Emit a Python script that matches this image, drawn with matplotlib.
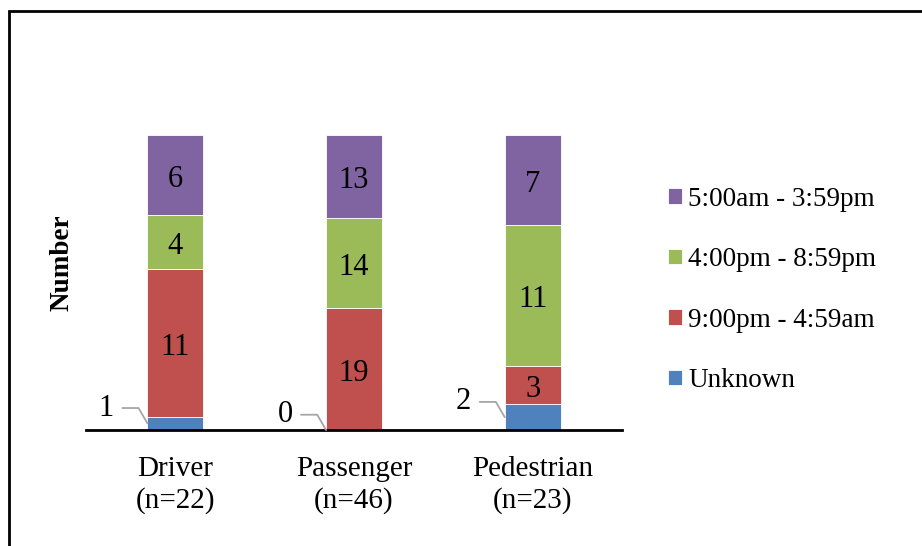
import numpy as np
import matplotlib
matplotlib.use("Agg")
import matplotlib.pyplot as plt
from matplotlib.patches import Rectangle

plt.rcParams['font.family'] = ['Liberation Serif', 'DejaVu Serif']

# counts by time of crash for each road user group
categories = ['Driver\n(n=22)', 'Passenger\n(n=46)', 'Pedestrian\n(n=23)']
unknown = [1, 0, 2]
night = [11, 19, 3]      # 9:00pm - 4:59am
evening = [4, 14, 11]    # 4:00pm - 8:59pm
day = [6, 13, 7]         # 5:00am - 3:59pm

series = [
    ('Unknown', unknown, '#4F81BD'),
    ('9:00pm - 4:59am', night, '#C0504D'),
    ('4:00pm - 8:59pm', evening, '#9BBB59'),
    ('5:00am - 3:59pm', day, '#8064A2'),
]

W, H = 922, 546
fig = plt.figure(figsize=(W / 100, H / 100), dpi=100)
ax = fig.add_axes([86 / W, (H - 430) / H, (622 - 86) / W, (430 - 135) / H])

totals = np.array(unknown) + np.array(night) + np.array(evening) + np.array(day)
x = np.arange(len(categories))
width = 0.313
fs_val = 22

bottom = np.zeros(len(categories))
handles = []
for name, vals, color in series:
    share = np.array(vals) / totals
    bars = ax.bar(x, share, width, bottom=bottom, color=color, label=name,
                  edgecolor='white', linewidth=0.6)
    handles.append(bars)
    for i, v in enumerate(vals):
        mid = bottom[i] + share[i] / 2
        if name == 'Unknown':
            # small segment: label sits outside with a leader line
            ax.annotate(str(v), xy=(x[i] - width / 2, mid), xytext=(-24, 11),
                        textcoords='offset points', ha='right', va='center',
                        fontsize=fs_val,
                        arrowprops=dict(arrowstyle='-', color='#A6A6A6', lw=1.3,
                                        shrinkA=4, shrinkB=0,
                                        connectionstyle='angle,angleA=0,angleB=120,rad=0'))
        else:
            ax.annotate(str(v), xy=(x[i], mid), xytext=(0, -3),
                        textcoords='offset points', ha='center', va='center',
                        fontsize=fs_val)
    bottom += share

ax.set_xlim(-0.5, 2.5)
ax.set_ylim(0, 1)
ax.set_xticks(x)
ax.set_xticklabels(categories, fontsize=21, linespacing=1.25)
ax.tick_params(axis='x', length=0, pad=19)
ax.set_yticks([])
for side in ['top', 'right', 'left']:
    ax.spines[side].set_visible(False)
ax.spines['bottom'].set_linewidth(2)

fig.text(62 / W, 1 - 263 / H, 'Number', rotation=90, ha='center', va='center',
         fontsize=19.5, fontweight='bold')

fig.legend(handles[::-1], [s[0] for s in series][::-1], loc='center left',
           bbox_to_anchor=(668 / W, 1 - 290 / H), frameon=False, fontsize=19.5,
           handlelength=0.5, handleheight=0.5, handletextpad=0.25,
           labelspacing=1.31, borderpad=0, borderaxespad=0)

# chart frame
fig.add_artist(Rectangle((8.5 / W, -0.1), 1.2, (H - 11) / H + 0.1,
                         transform=fig.transFigure, fill=False,
                         edgecolor='black', linewidth=2))

fig.savefig('out.png', dpi=100)
